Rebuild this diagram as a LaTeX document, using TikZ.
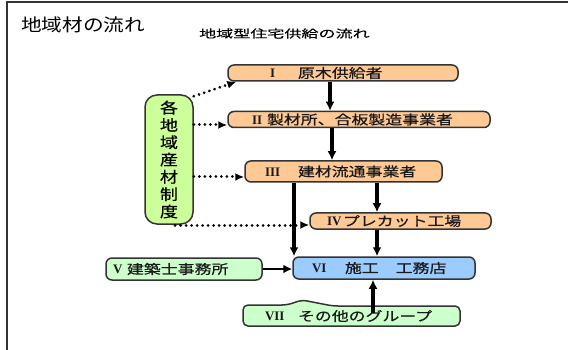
\documentclass[tikz,border=0pt]{standalone}
\usepackage{fontspec}
\usetikzlibrary{arrows.meta,calc}
\newfontfamily\jp[FakeStretch=1.3,FakeBold=0.6]{Noto Sans CJK JP}
\newfontfamily\jptitle[FakeStretch=1.18]{Noto Sans CJK JP}
\newfontfamily\jpsub[FakeStretch=1.55,FakeBold=0.4]{Noto Sans CJK JP}
\newfontfamily\jpside[FakeStretch=1.2,FakeBold=0.6]{Noto Sans CJK JP}
\newfontfamily\rom{Liberation Serif}
\newcommand\bxt[4]{\hspace*{#1}\rlap{\rom\bfseries #2}\hspace*{#3}{\jp #4}}
\definecolor{orbox}{HTML}{FFC996}
\definecolor{blbox}{HTML}{9CCBFF}
\definecolor{grbox}{HTML}{CCFFCC}
\definecolor{sidebox}{HTML}{CCFF99}
\definecolor{edge}{HTML}{333333}
\tikzset{
  box/.style={draw=edge, line width=1.5pt, rounded corners=6pt, inner xsep=0pt, inner ysep=0pt,
    align=left, anchor=center, font=\fontsize{13}{13}\selectfont, text=black!90},
  arr/.style={line width=3.2pt, -{Latex[length=9pt,width=9pt]}},
  dotarr/.style={line width=3pt, dash pattern=on 0.01pt off 5.5pt, line cap=round,
    -{Latex[length=9pt,width=8pt]}},
}
\begin{document}
\begin{tikzpicture}[x=1pt,y=-1pt]
\useasboundingbox (0,0) rectangle (568,350);
% frame
\draw[edge, line width=1.5pt] (7,350) -- (7,2) -- (568,2);
% titles
\node[anchor=west, inner sep=0pt, font=\jptitle\fontsize{17.5}{17.5}\selectfont] (title) at (21,24.5) {地域材の流れ};
\node[anchor=west, inner sep=0pt, font=\jpsub\fontsize{11}{11}\selectfont] (sub) at (199,33.5) {地域型住宅供給の流れ};
% boxes
\node[box, fill=orbox, text width=230pt, minimum height=16pt] (i) at (343,73) {\bxt{42pt}{I}{28pt}{原木供給者}};
\node[box, fill=orbox, text width=262pt, minimum height=16pt] (ii) at (359,119.5) {\bxt{24pt}{II}{15pt}{製材所、合板製造事業者}};
\node[box, fill=orbox, text width=197pt, minimum height=21pt] (iii) at (343.5,171.5) {\bxt{20pt}{III}{33pt}{建材流通事業者}};
\node[box, fill=orbox, text width=181pt, minimum height=16pt] (iv) at (400.5,221) {\bxt{17pt}{IV}{16pt}{プレカット工場}};
\node[box, fill=grbox, text width=156pt, minimum height=22pt] (v) at (184,269) {\bxt{7pt}{V}{14pt}{建築士事務所}};
\node[box, fill=blbox, text width=182pt, minimum height=22pt] (vi) at (384,268) {\bxt{19pt}{VI}{33pt}{施工　工務店}};
\draw[draw=edge, line width=1.5pt, fill=grbox, rounded corners=5pt]
  (243,305) -- (287,305) -- (302,300) -- (333,306) -- (460,306) -- (460,326) -- (243,326) -- cycle;
\node[box, draw=none, text width=217pt, minimum height=21pt] (vii) at (351.5,316) {\bxt{22pt}{VII}{33pt}{その他のグループ}};
\node[draw=edge, line width=1.5pt, fill=sidebox, rounded corners=12pt, minimum width=48pt, minimum height=129pt,
  inner sep=0pt, align=center, font=\jpside\fontsize{15}{17.3}\selectfont] (side) at (169,159.5)
  {各\\地\\域\\産\\材\\制\\度};
% arrow columns
\coordinate (c1) at (330,0);
\coordinate (c2) at (332,0);
\coordinate (c3) at (294,0);
\coordinate (c4) at (377,0);
\coordinate (r2) at (0,125);
\coordinate (r3) at (0,177);
\coordinate (r4) at (0,225);
\coordinate (s4) at (175,225);
\coordinate (viitop) at (373,313);
% solid arrows
\draw[arr] (i.south -| c1) -- (ii.north -| c1);
\draw[arr] (ii.south -| c2) -- (iii.north -| c2);
\draw[arr] (iii.south -| c3) -- (vi.north -| c3);
\draw[arr] (iii.south -| c4) -- (iv.north -| c4);
\draw[arr] (iv.south -| c4) -- (vi.north -| c4);
\draw[arr, line width=2.4pt] (v.east) -- (v.east -| vi.west);
\draw[arr] (viitop) -- (viitop |- vi.south);
% dotted arrows
\draw[dotarr] ($(side.north east)+(0,2)$) -- ($(i.south west)+(9,0)$);
\draw[dotarr] (side.east |- r2) -- (ii.west |- r2);
\draw[dotarr] (side.east |- r3) -- (iii.west |- r3);
\draw[dotarr] (s4) -- (iv.west |- r4);
\end{tikzpicture}
\end{document}
